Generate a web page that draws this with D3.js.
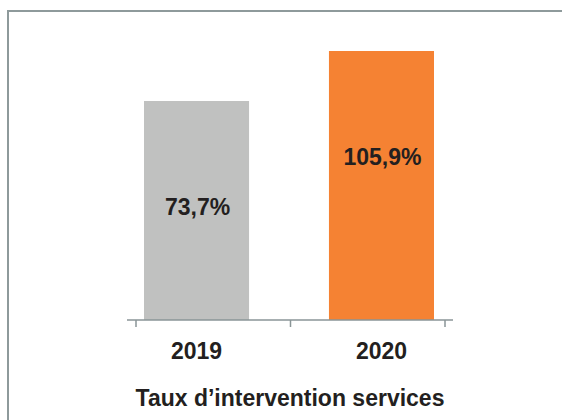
<!DOCTYPE html>
<html><head><meta charset="utf-8">
<script src="https://cdn.jsdelivr.net/npm/d3@7"></script>
<style>html,body{margin:0;padding:0;background:#fff;}svg{display:block;}</style>
</head><body>
<script>
const categories = ["2019", "2020"];
const values = [73.7, 105.9];
const valueLabels = ["73,7%", "105,9%"];
const colors = ["#c0c1c0", "#f58233"];
const title = "Taux d’intervention services";

const W = 562, H = 420;
const svg = d3.select("body").append("svg").attr("width", W).attr("height", H);
const font = "'Liberation Sans', Arial, sans-serif";
const textColor = "#231f20";

// frame
svg.append("rect").attr("x", 8).attr("y", 11).attr("width", 600).attr("height", 500)
  .attr("fill", "none").attr("stroke", "#8e9a9b").attr("stroke-width", 2);

const x = d3.scaleBand().domain(categories).range([144, 434]).paddingInner(0.432).paddingOuter(0);
const y = d3.scaleLinear().domain([-67.3, 105.9]).range([320, 51]);
const tickScale = d3.scaleLinear().domain([0, 2]).range([136, 445]);

svg.selectAll("rect.bar").data(values).join("rect").attr("class", "bar")
  .attr("x", (d, i) => x(categories[i]))
  .attr("y", d => y(d))
  .attr("width", x.bandwidth())
  .attr("height", d => y.range()[0] - y(d))
  .attr("fill", (d, i) => colors[i]);

// axis
const axisColor = "#8a9597";
svg.append("line").attr("x1", 127).attr("x2", 453).attr("y1", 320).attr("y2", 320)
  .attr("stroke", axisColor).attr("stroke-width", 1.5);
svg.selectAll("line.tick").data(d3.range(3)).join("line").attr("class", "tick")
  .attr("x1", d => tickScale(d)).attr("x2", d => tickScale(d))
  .attr("y1", 320).attr("y2", 327).attr("stroke", axisColor).attr("stroke-width", 1.5);

svg.selectAll("text.cat").data(categories).join("text").attr("class", "cat")
  .attr("x", d => x(d) + x.bandwidth() / 2).attr("y", 359)
  .attr("text-anchor", "middle").attr("font-family", font).attr("font-weight", "bold")
  .attr("font-size", 23).attr("fill", textColor).text(d => d);

svg.selectAll("text.val").data(values).join("text").attr("class", "val")
  .attr("x", (d, i) => x(categories[i]) + x.bandwidth() / 2 + 1)
  .attr("y", d => y(d) + 114)
  .attr("text-anchor", "middle").attr("font-family", font).attr("font-weight", "bold")
  .attr("font-size", 23).attr("fill", textColor).text((d, i) => valueLabels[i]);

svg.append("text").attr("x", 290).attr("y", 406).attr("text-anchor", "middle")
  .attr("font-family", font).attr("font-weight", "bold").attr("font-size", 23)
  .attr("fill", textColor).text(title);
</script>
</body></html>
